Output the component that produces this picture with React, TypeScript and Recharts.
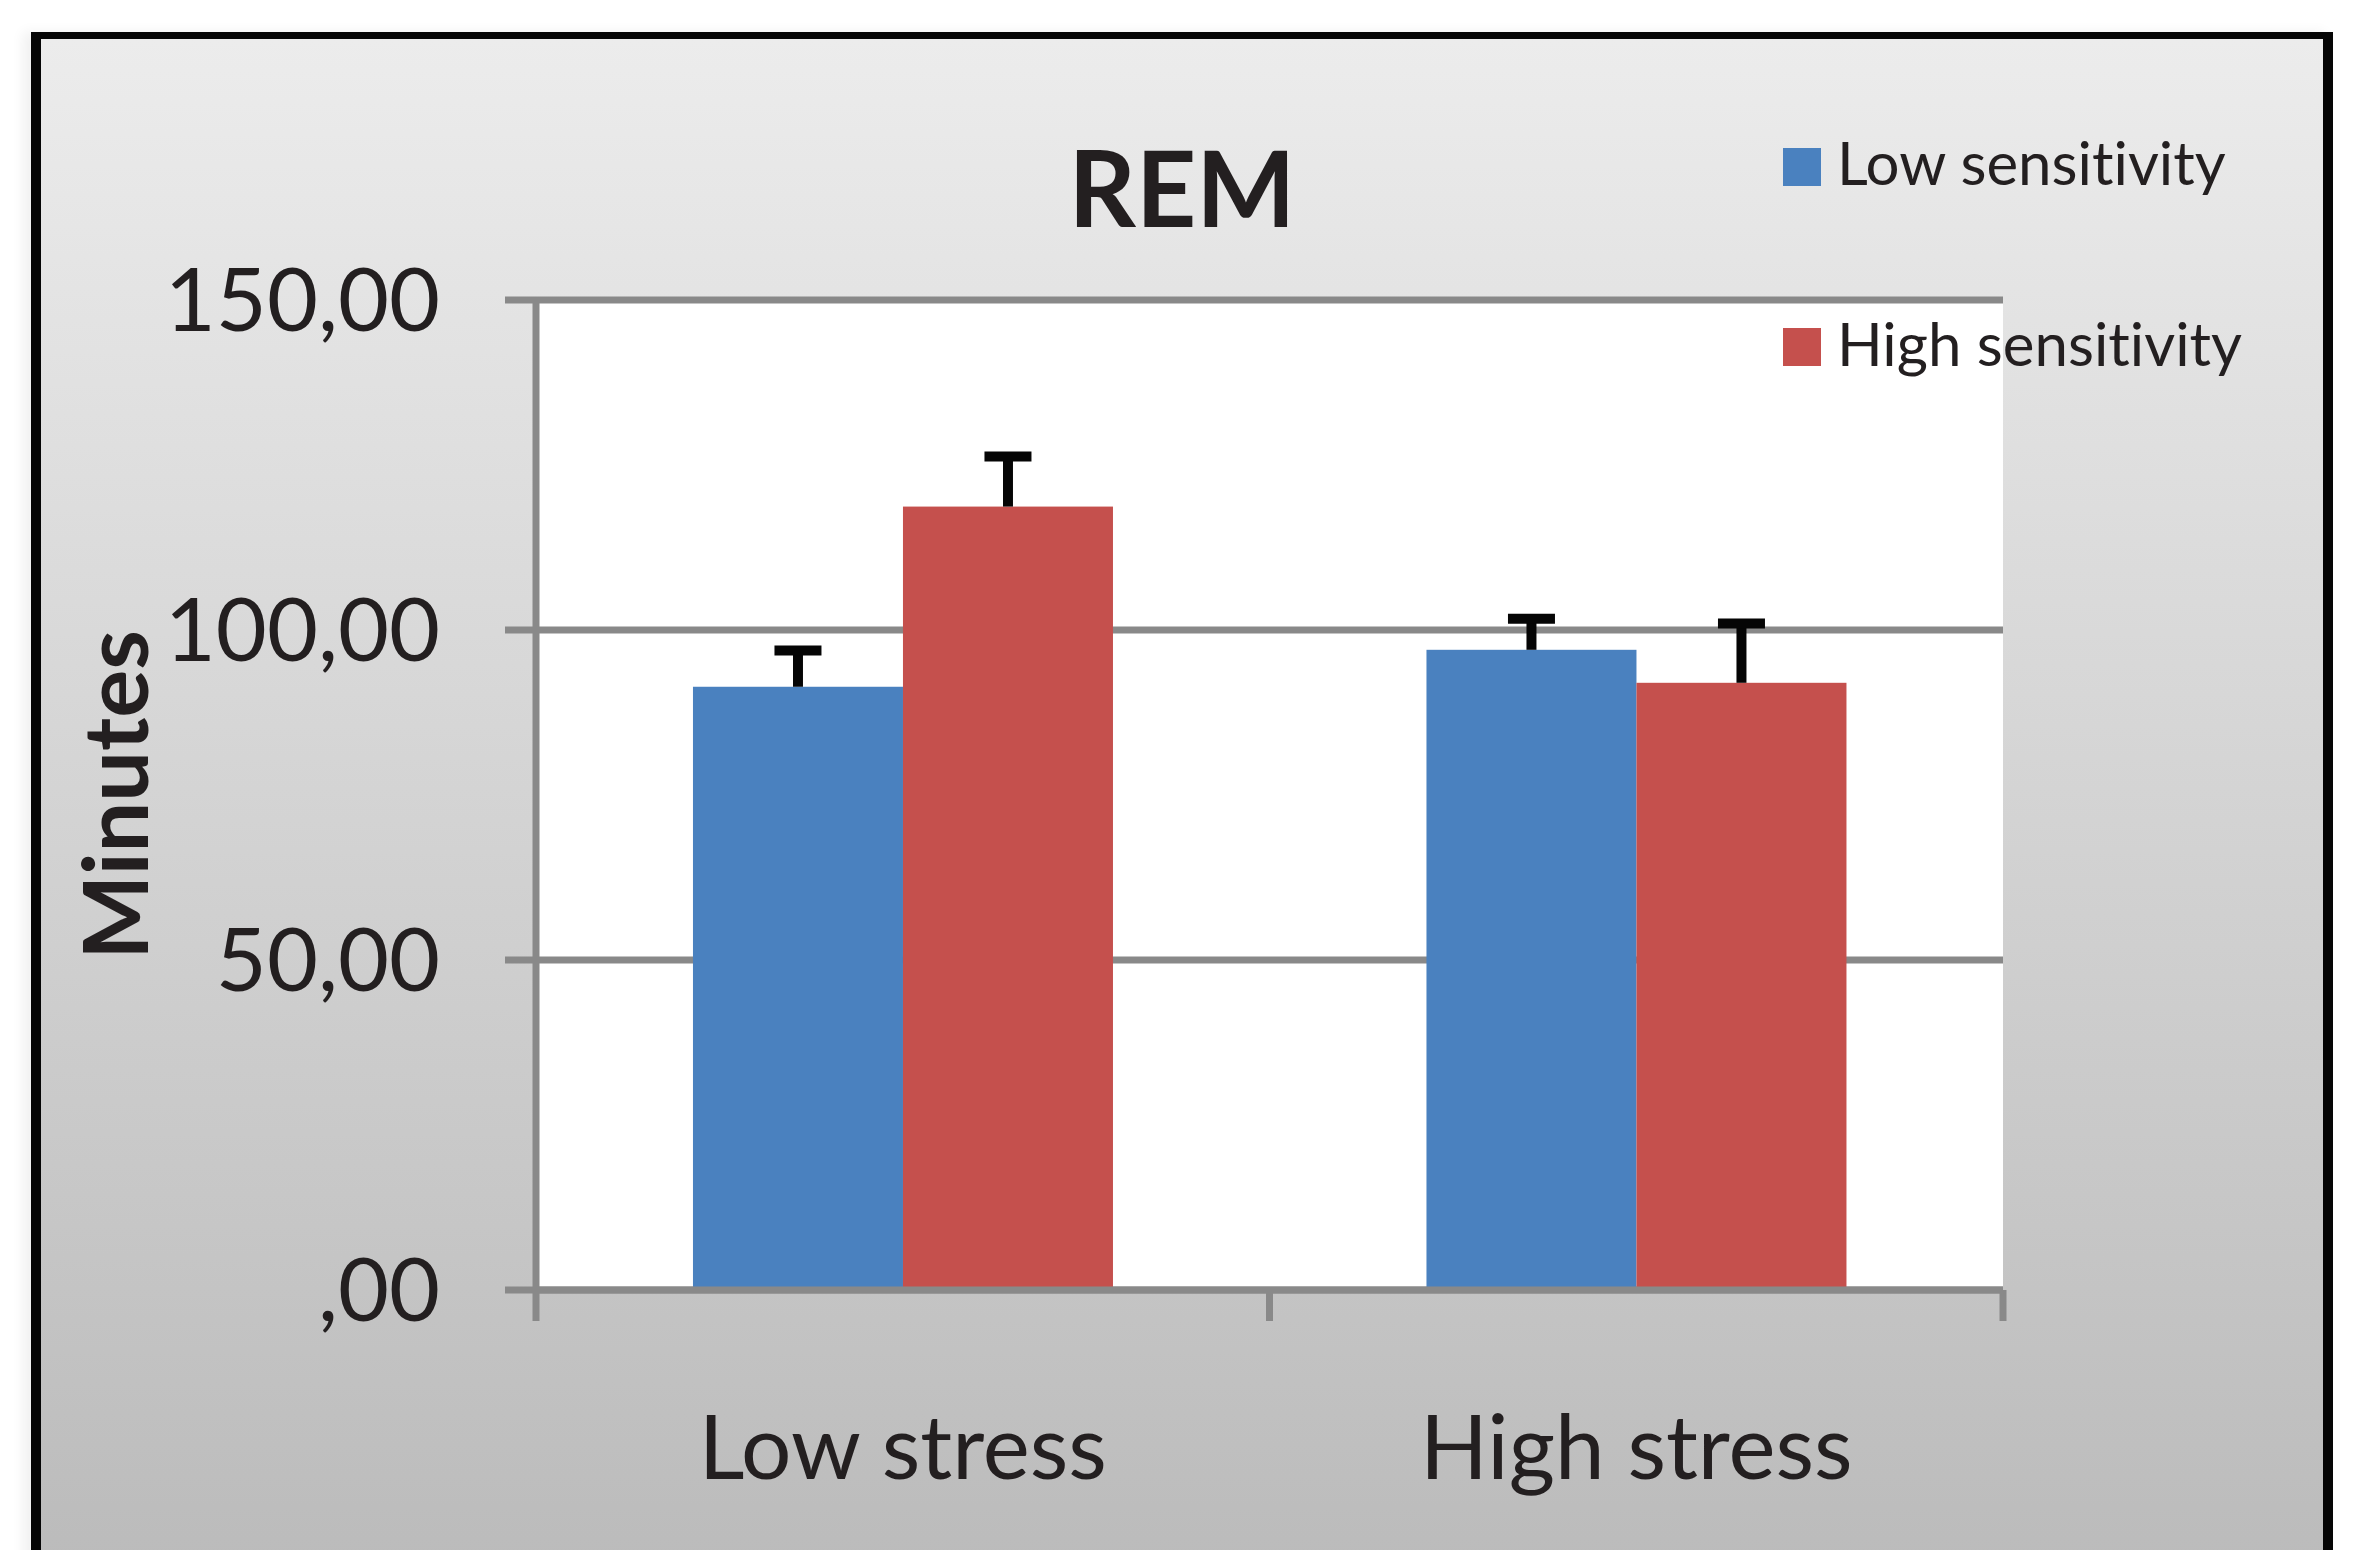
import React from "react";
import { BarChart, Bar, XAxis, YAxis, CartesianGrid, Legend } from "recharts";

const categories = ["Low stress", "High stress"];
const seriesNames = ["Low sensitivity", "High sensitivity"];
const lowSensitivity = [91.4, 97.0];
const highSensitivity = [118.7, 92.0];
const lowSensitivityErr = [5.5, 4.7];
const highSensitivityErr = [7.6, 9.0];
const yTicks = [0, 50, 100, 150];
const yTickLabels = [",00", "50,00", "100,00", "150,00"];

const data = categories.map((name, i) => ({
  name,
  low: lowSensitivity[i],
  lowErr: lowSensitivityErr[i],
  high: highSensitivity[i],
  highErr: highSensitivityErr[i],
}));

const FONT = "Lato, 'Open Sans', sans-serif";
const TEXT = "#231f20";
const AXIS = "#898989";
const noLig = { fontVariantLigatures: "none" as const };

// bar + upper error bar (Excel style: plus direction only)
const barWithError = (valueKey: string, errKey: string) => (props: any) => {
  const { x, y, width, height, fill, payload } = props;
  const errPx = (payload[errKey] / payload[valueKey]) * height;
  const cx = x + width / 2;
  const top = y - errPx;
  return (
    <g>
      <rect x={x} y={y} width={width} height={height} fill={fill} />
      <line x1={cx} y1={y} x2={cx} y2={top} stroke="#050505" strokeWidth={10} />
      <line x1={cx - 23.5} y1={top} x2={cx + 23.5} y2={top} stroke="#050505" strokeWidth={10} />
    </g>
  );
};

// category label with tick marks on the band edges
const CategoryTick = (props: any) => {
  const { x, y, payload, width } = props;
  const half = payload.offset || width / (2 * categories.length);
  return (
    <g>
      <line x1={x - half} y1={y} x2={x - half} y2={y + 31} stroke={AXIS} strokeWidth={7} />
      <line x1={x + half} y1={y} x2={x + half} y2={y + 31} stroke={AXIS} strokeWidth={7} />
      <text x={x} y={y + 189} textAnchor="middle" fontFamily={FONT} fontSize={89} fill={TEXT} style={noLig}>
        {payload.value}
      </text>
    </g>
  );
};

const renderLegend = (props: any) => {
  const payload = [...props.payload].sort(
    (a: any, b: any) => seriesNames.indexOf(a.value) - seriesNames.indexOf(b.value)
  );
  return (
    <svg width={560} height={300}>
      {payload.map((entry: any, index: number) => (
        <g key={`item-${index}`}>
          <rect x={13} y={48 + index * 180} width={38} height={38} fill={entry.color} />
          <text x={67} y={85 + index * 181} fontFamily={FONT} fontSize={60} fill={TEXT} style={noLig}>
            {entry.value}
          </text>
        </g>
      ))}
    </svg>
  );
};

const renderYLabel = (props: any) => {
  const { viewBox } = props;
  const x = viewBox.x + 108;
  const y = viewBox.y + viewBox.height / 2;
  return (
    <text
      x={x}
      y={y}
      transform={`rotate(-90, ${x}, ${y})`}
      textAnchor="middle"
      fontFamily={FONT}
      fontWeight="bold"
      fontSize={90}
      fill={TEXT}
    >
      Minutes
    </text>
  );
};

export default function App() {
  return (
    <div
      style={{
        position: "absolute",
        left: 0,
        top: 0,
        width: 2353,
        height: 1550,
        overflow: "hidden",
        background: "#ffffff",
      }}
    >
      <div
        style={{
          position: "absolute",
          left: 31,
          top: 32,
          width: 2302,
          height: 1600,
          boxSizing: "border-box",
          borderStyle: "solid",
          borderColor: "#050505",
          borderWidth: "7px 10px 0 10px",
          background: "linear-gradient(to bottom, #ececec 0%, #b9b9b9 100%)",
          boxShadow: "-8px 0 12px rgba(0,0,0,0.06)",
        }}
      />
      <svg style={{ position: "absolute", left: 0, top: 0 }} width={2353} height={300}>
        <text x={1182} y={227} textAnchor="middle" fontFamily={FONT} fontWeight="bold" fontSize={105} fill={TEXT}>
          REM
        </text>
      </svg>
      <div style={{ position: "absolute", left: 0, top: 0 }}>
        <BarChart
          width={2353}
          height={1550}
          data={data}
          margin={{ top: 300, right: 350, bottom: 230, left: 40 }}
          barCategoryGap="21.4%"
          barGap={0}
        >
          <CartesianGrid vertical={false} stroke={AXIS} strokeWidth={7} fill="#ffffff" strokeOpacity={1} />
          <XAxis
            dataKey="name"
            height={30}
            axisLine={{ stroke: AXIS, strokeWidth: 7 }}
            tickLine={false}
            tickSize={0}
            tickMargin={0}
            tick={<CategoryTick />}
            interval={0}
          />
          <YAxis
            width={496}
            domain={[0, 150]}
            ticks={yTicks}
            interval={0}
            axisLine={{ stroke: AXIS, strokeWidth: 7 }}
            tickLine={{ stroke: AXIS, strokeWidth: 7 }}
            tickSize={31}
            tickMargin={65}
            tick={{ fontFamily: FONT, fontSize: 88, fill: TEXT }}
            tickFormatter={(v: number) => yTickLabels[yTicks.indexOf(v)]}
            label={renderYLabel}
          />
          <Legend
            layout="vertical"
            align="center"
            verticalAlign="middle"
            content={renderLegend}
            wrapperStyle={{ left: 1770, top: 100, width: 560, height: 300 }}
          />
          <Bar
            dataKey="low"
            name={seriesNames[0]}
            fill="#4a81bf"
            shape={barWithError("low", "lowErr")}
            isAnimationActive={false}
          />
          <Bar
            dataKey="high"
            name={seriesNames[1]}
            fill="#c5504d"
            shape={barWithError("high", "highErr")}
            isAnimationActive={false}
          />
        </BarChart>
      </div>
    </div>
  );
}
